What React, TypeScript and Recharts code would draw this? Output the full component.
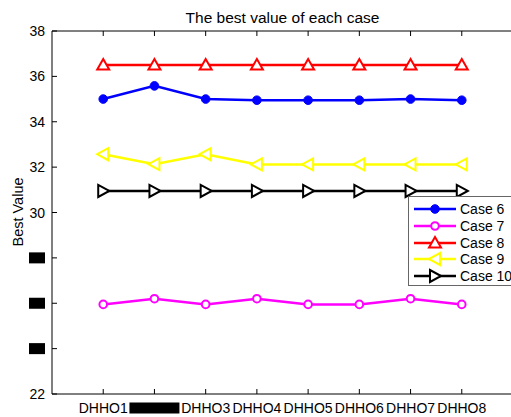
import { LineChart, Line, XAxis, YAxis } from 'recharts';

const categories = ['DHHO1', 'DHHO2', 'DHHO3', 'DHHO4', 'DHHO5', 'DHHO6', 'DHHO7', 'DHHO8'];
const case6 = [35.0, 35.58, 35.0, 34.95, 34.95, 34.95, 35.0, 34.95];
const case7 = [25.95, 26.2, 25.95, 26.2, 25.95, 25.95, 26.2, 25.95];
const case8 = [36.5, 36.5, 36.5, 36.5, 36.5, 36.5, 36.5, 36.5];
const case9 = [32.57, 32.13, 32.57, 32.12, 32.12, 32.12, 32.12, 32.12];
const case10 = [30.95, 30.95, 30.95, 30.95, 30.95, 30.95, 30.95, 30.95];
const yTicks = [22, 24, 26, 28, 30, 32, 34, 36, 38];
const xTicks = [1, 2, 3, 4, 5, 6, 7, 8];
// labels that are blacked out in the reference
const hiddenY = [24, 26, 28];
const hiddenX = ['DHHO2'];

const data = categories.map((name, i) => ({
  x: i + 1,
  name,
  c6: case6[i],
  c7: case7[i],
  c8: case8[i],
  c9: case9[i],
  c10: case10[i],
}));

const FONT = 'Liberation Sans, Arial, sans-serif';

type Shape = 'dot' | 'ring' | 'up' | 'left' | 'right';

function marker(shape: Shape, color: string, cx: number, cy: number, key?: any) {
  if (cx == null || cy == null) return <g key={key} />;
  const sw = 2;
  if (shape === 'dot') return <circle key={key} cx={cx} cy={cy} r={4.3} fill={color} stroke={color} />;
  if (shape === 'ring') return <circle key={key} cx={cx} cy={cy} r={3.8} fill="white" stroke={color} strokeWidth={sw} />;
  let pts = '';
  if (shape === 'up') pts = `${cx - 6},${cy + 4.5} ${cx + 6},${cy + 4.5} ${cx},${cy - 6}`;
  if (shape === 'left') pts = `${cx - 6},${cy} ${cx + 5},${cy - 6} ${cx + 5},${cy + 6}`;
  if (shape === 'right') pts = `${cx + 6},${cy} ${cx - 5},${cy - 6} ${cx - 5},${cy + 6}`;
  return <polygon key={key} points={pts} fill="white" stroke={color} strokeWidth={sw} strokeLinejoin="miter" />;
}

const series: { key: string; name: string; color: string; shape: Shape }[] = [
  { key: 'c6', name: 'Case 6', color: '#0000ff', shape: 'dot' },
  { key: 'c7', name: 'Case 7', color: '#ff00ff', shape: 'ring' },
  { key: 'c8', name: 'Case 8', color: '#ff0000', shape: 'up' },
  { key: 'c9', name: 'Case 9', color: '#ffff00', shape: 'left' },
  { key: 'c10', name: 'Case 10', color: '#000000', shape: 'right' },
];

const LeftTick = (props: any) => {
  const { y, payload } = props;
  const v = payload.value;
  return (
    <g>
      <line x1={52} x2={57} y1={y} y2={y} stroke="#000" />
      {hiddenY.includes(v) && <rect x={29} y={y - 5.5} width={16} height={11} fill="#000" />}
      <text x={45} y={y} dy={5} textAnchor="end" fontSize={14} fontFamily={FONT} fill="#000">
        {v}
      </text>
    </g>
  );
};

const RightTick = (props: any) => {
  const { y } = props;
  return <line x1={508} x2={513} y1={y} y2={y} stroke="#000" />;
};

const BottomTick = (props: any) => {
  const { x, payload } = props;
  const label = categories[payload.value - 1] ?? '';
  return (
    <g>
      <line x1={x} x2={x} y1={394} y2={389} stroke="#000" />
      {hiddenX.includes(label) && <rect x={x - 25} y={402.5} width={50} height={11} fill="#000" />}
      <text x={x} y={408} dy={5} textAnchor="middle" fontSize={14} fontFamily={FONT} fill="#000">
        {label}
      </text>
    </g>
  );
};

const TopTick = (props: any) => {
  const { x } = props;
  return <line x1={x} x2={x} y1={31} y2={36} stroke="#000" />;
};

const LegendBox = () => (
  <div
    style={{
      position: 'absolute',
      left: 408,
      top: 196,
      width: 104,
      height: 90,
      border: '1px solid #666',
      background: '#fff',
      boxSizing: 'border-box',
      fontFamily: FONT,
      fontSize: 14,
      paddingTop: 4,
      whiteSpace: 'nowrap',
    }}
  >
    {series.map((s) => (
      <div key={s.key} style={{ display: 'flex', alignItems: 'center', height: 16.7 }}>
        <svg width={50} height={16} style={{ flex: 'none' }}>
          <line x1={5} x2={47} y1={8} y2={8} stroke={s.color} strokeWidth={2.5} />
          {marker(s.shape, s.color, 26, 8)}
        </svg>
        <span style={{ marginLeft: 1, lineHeight: '16px' }}>{s.name}</span>
      </div>
    ))}
  </div>
);

export default function App() {
  return (
    <div style={{ position: 'absolute', left: 0, top: 0, width: 511, height: 417, overflow: 'hidden', background: '#fff' }}>
      <div
        style={{
          position: 'absolute',
          left: 0,
          width: 565,
          top: 9,
          textAlign: 'center',
          fontFamily: FONT,
          fontSize: 15.5,
        }}
      >
        The best value of each case
      </div>
      <div
        style={{
          position: 'absolute',
          left: 18,
          top: 212,
          transform: 'translate(-50%, -50%) rotate(-90deg)',
          fontFamily: FONT,
          fontSize: 14.5,
          whiteSpace: 'nowrap',
        }}
      >
        Best Value
      </div>
      <LineChart width={514} height={417} data={data} margin={{ top: 0, right: 0, bottom: 0, left: 0 }}>
        <XAxis
          dataKey="x"
          type="number"
          domain={[0, 9]}
          ticks={xTicks}
          height={23}
          axisLine={{ stroke: '#000' }}
          tickLine={false}
          tick={<BottomTick />}
          interval={0}
        />
        <XAxis
          xAxisId="top"
          dataKey="x"
          type="number"
          orientation="top"
          domain={[0, 9]}
          ticks={xTicks}
          height={31}
          axisLine={{ stroke: '#000' }}
          tickLine={false}
          tick={<TopTick />}
          interval={0}
        />
        <YAxis
          type="number"
          domain={[22, 38]}
          ticks={yTicks}
          width={52}
          axisLine={{ stroke: '#000' }}
          tickLine={false}
          tick={<LeftTick />}
          interval={0}
        />
        <YAxis
          yAxisId="right"
          orientation="right"
          type="number"
          domain={[22, 38]}
          ticks={yTicks}
          width={1}
          axisLine={{ stroke: '#000' }}
          tickLine={false}
          tick={<RightTick />}
          interval={0}
        />
        {series.map((s) => (
          <Line
            key={s.key}
            dataKey={s.key}
            name={s.name}
            stroke={s.color}
            strokeWidth={2.5}
            type="linear"
            isAnimationActive={false}
            dot={(p: any) => marker(s.shape, s.color, p.cx, p.cy, p.index)}
            activeDot={false}
          />
        ))}
      </LineChart>
      <LegendBox />
    </div>
  );
}
